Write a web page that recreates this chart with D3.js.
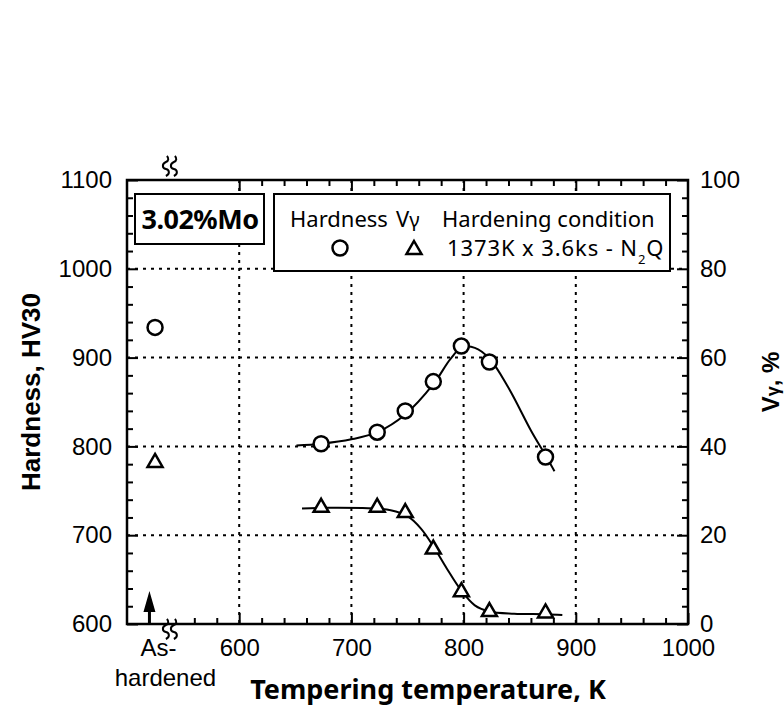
<!DOCTYPE html>
<html lang="en">
<head>
    <meta charset="UTF-8">
    <title>Hardness and retained austenite vs tempering temperature</title>
    <script src="https://d3js.org/d3.v7.min.js"></script>
</head>

<style>
    body { margin: 0; background: #fff; }

    .frame {
        fill: none;
        stroke: #000;
        stroke-width: 2.5px;
    }

    .grid line {
        stroke: #000;
        stroke-width: 2px;
        stroke-dasharray: 3,5;
    }

    .tick line {
        stroke: #000;
        stroke-width: 2px;
    }

    .tick text {
        font-family: "Liberation Sans", Arial, sans-serif;
        font-size: 24px;
        fill: #000;
    }

    .fit {
        fill: none;
        stroke: #000;
        stroke-width: 2px;
    }

    .marker {
        fill: #fff;
        stroke: #000;
        stroke-width: 2.5px;
    }

    .title {
        font-family: "Liberation Sans", Arial, sans-serif;
        font-weight: bold;
        font-size: 26px;
    }

    .legend text {
        font-family: "Noto Sans", sans-serif;
        font-size: 22px;
    }
</style>

<body>
<svg width="784" height="709"></svg>

<script>

    // tempering temperatures, K
    var temps = [673, 723, 748, 773, 798, 823, 873];
    // hardness, HV30
    var hardness = [803, 816, 840, 873, 913, 895, 788];
    // retained austenite V-gamma, %
    var gammaVol = [26.4, 26.4, 25.2, 17.0, 7.4, 2.9, 2.6];

    // as-hardened values (drawn at the left, before the axis break)
    var asHardenedPos = 525;
    var asHardenedHardness = 934;
    var asHardenedGamma = 36.5;

    // hand drawn fitting curves
    var hardFitT = [651, 673, 700, 723, 748, 773, 788, 798, 810, 823, 840, 860, 873, 881];
    var hardFitV = [801, 803, 808, 816, 836, 870, 898, 911, 911, 899, 866, 818, 790, 772];
    var gammaFitT = [656, 680, 710, 735, 750, 762, 773, 785, 798, 810, 823, 845, 873, 888];
    var gammaFitV = [26.0, 26.2, 26.1, 25.6, 24.3, 21.5, 17.5, 12.5, 7.5, 4.2, 2.8, 2.3, 2.2, 2.0];

    var xTicks = [600, 700, 800, 900, 1000];
    var yLeftTicks = [600, 700, 800, 900, 1000, 1100];
    var yRightTicks = [0, 20, 40, 60, 80, 100];

    var svg = d3.select("svg");

    var x = d3.scaleLinear().domain([500, 1000]).range([127, 688]);
    var yL = d3.scaleLinear().domain([600, 1100]).range([624, 180]);
    var yR = d3.scaleLinear().domain([0, 100]).range([624, 180]);

    var plotL = x(500), plotR = x(1000), plotT = yL(1100), plotB = yL(600);
    var fmt = d3.format("d");

    // dotted grid
    var grid = svg.append("g").attr("class", "grid");
    grid.selectAll("line.v")
        .data([600, 700, 800, 900])
        .enter().append("line")
        .attr("x1", function(d) { return x(d); })
        .attr("x2", function(d) { return x(d); })
        .attr("y1", plotT).attr("y2", plotB);
    grid.selectAll("line.h")
        .data([700, 800, 900, 1000])
        .enter().append("line")
        .attr("y1", function(d) { return yL(d); })
        .attr("y2", function(d) { return yL(d); })
        .attr("x1", plotL).attr("x2", plotR);

    function notMajor(step) {
        return function(d) { return d % step !== 0; };
    }

    // bottom axis
    svg.append("g")
        .attr("transform", "translate(0," + plotB + ")")
        .call(d3.axisBottom(x).tickValues(d3.range(560, 1000, 20).filter(notMajor(100))).tickSize(-6).tickFormat(""));
    svg.append("g")
        .attr("transform", "translate(0," + plotB + ")")
        .call(d3.axisBottom(x).tickValues(xTicks).tickSize(-11).tickPadding(15).tickFormat(fmt));

    // top axis
    svg.append("g")
        .attr("transform", "translate(0," + plotT + ")")
        .call(d3.axisTop(x).tickValues(d3.range(620, 1000, 20).filter(notMajor(100))).tickSize(-6).tickFormat(""));
    svg.append("g")
        .attr("transform", "translate(0," + plotT + ")")
        .call(d3.axisTop(x).tickValues([600, 700, 800, 900]).tickSize(-11).tickFormat(""));

    // left axis
    svg.append("g")
        .attr("transform", "translate(" + plotL + ",0)")
        .call(d3.axisLeft(yL).tickValues(d3.range(620, 1100, 20).filter(notMajor(100))).tickSize(-6).tickFormat(""));
    svg.append("g")
        .attr("transform", "translate(" + plotL + ",0)")
        .call(d3.axisLeft(yL).tickValues(yLeftTicks).tickSize(-11).tickPadding(15).tickFormat(fmt));

    // right axis
    svg.append("g")
        .attr("transform", "translate(" + plotR + ",0)")
        .call(d3.axisRight(yR).tickValues(d3.range(4, 100, 4).filter(notMajor(20))).tickSize(-6).tickFormat(""));
    svg.append("g")
        .attr("transform", "translate(" + plotR + ",0)")
        .call(d3.axisRight(yR).tickValues(yRightTicks).tickSize(-11).tickPadding(12).tickFormat(fmt));

    svg.selectAll(".domain").remove();
    svg.selectAll(".tick text").attr("fill", "#000");

    svg.append("rect")
        .attr("class", "frame")
        .attr("x", plotL).attr("y", plotT)
        .attr("width", plotR - plotL).attr("height", plotB - plotT);

    // axis break marks
    function breakMark(cx, cy) {
        var p = "";
        [-4, 4].forEach(function(dx) {
            var x0 = cx + dx;
            p += "M" + (x0 - 2) + "," + (cy + 10) +
                 "c4,-2 4,-6 0,-7" + "c-4,-1 -4,-5 0,-7" + "c3,-1 3,-4 1,-6";
        });
        svg.append("path").attr("d", p)
            .attr("fill", "none").attr("stroke", "#000").attr("stroke-width", 2);
    }
    breakMark(x(540), plotB + 5);
    breakMark(x(540), plotT - 14);

    // as-hardened arrow
    svg.append("path")
        .attr("d", "M" + x(520) + "," + (plotB - 33) +
                   "l6,21 h-4.5 v12 h-3 v-12 h-4.5 z")
        .attr("fill", "#000");

    var labels = svg.append("g").attr("class", "tick");
    labels.append("text").attr("x", x(520) + 9).attr("y", plotB + 32)
        .attr("text-anchor", "middle").text("As-");
    labels.append("text").attr("x", x(520) + 16).attr("y", plotB + 62)
        .attr("text-anchor", "middle").text("hardened");

    // fitted curves
    var lineL = d3.line()
        .x(function(d) { return x(d[0]); })
        .y(function(d) { return yL(d[1]); })
        .curve(d3.curveCatmullRom);
    var lineR = d3.line()
        .x(function(d) { return x(d[0]); })
        .y(function(d) { return yR(d[1]); })
        .curve(d3.curveCatmullRom);

    svg.append("path").attr("class", "fit")
        .attr("d", lineL(d3.zip(hardFitT, hardFitV)));
    svg.append("path").attr("class", "fit")
        .attr("d", lineR(d3.zip(gammaFitT, gammaFitV)));

    var triPath = "M0,-8L7.5,5L-7.5,5Z";

    // hardness circles
    svg.append("g").selectAll("circle")
        .data(d3.zip(temps.concat([asHardenedPos]), hardness.concat([asHardenedHardness])))
        .enter().append("circle")
        .attr("class", "marker")
        .attr("cx", function(d) { return x(d[0]); })
        .attr("cy", function(d) { return yL(d[1]); })
        .attr("r", 7.5);

    // V-gamma triangles
    svg.append("g").selectAll("path")
        .data(d3.zip(temps.concat([asHardenedPos]), gammaVol.concat([asHardenedGamma])))
        .enter().append("path")
        .attr("class", "marker")
        .attr("d", triPath)
        .attr("transform", function(d) {
            return "translate(" + x(d[0]) + "," + yR(d[1]) + ")";
        });

    // alloy box
    svg.append("rect")
        .attr("x", 135).attr("y", 194).attr("width", 129).attr("height", 50)
        .attr("fill", "#fff").attr("stroke", "#000").attr("stroke-width", 2);
    svg.append("text")
        .attr("x", 200).attr("y", 229)
        .attr("text-anchor", "middle")
        .style("font-family", "'Noto Sans', sans-serif")
        .style("font-weight", "bold")
        .style("font-size", "27px")
        .style("letter-spacing", "-0.5px")
        .text("3.02%Mo");

    // legend
    var legend = svg.append("g").attr("class", "legend");
    legend.append("rect")
        .attr("x", 274).attr("y", 194).attr("width", 396).attr("height", 77)
        .attr("fill", "#fff").attr("stroke", "#000").attr("stroke-width", 2);
    legend.append("text").attr("x", 290).attr("y", 227).text("Hardness");
    var vg = legend.append("text").attr("x", 396).attr("y", 227);
    vg.append("tspan").text("V");
    vg.append("tspan").style("font-size", "20px").text("\u03B3");
    legend.append("text").attr("x", 442).attr("y", 227).text("Hardening condition");
    legend.append("circle").attr("class", "marker")
        .attr("cx", 340).attr("cy", 248).attr("r", 7.5);
    legend.append("path").attr("class", "marker")
        .attr("d", triPath)
        .attr("transform", "translate(414,249)");
    var cond = legend.append("text").attr("x", 447).attr("y", 256)
        .style("letter-spacing", "0.9px");
    cond.append("tspan").text("1373K x 3.6ks - N");
    cond.append("tspan").attr("dy", 8).style("font-size", "13px").text("2");
    cond.append("tspan").attr("dy", -8).text("Q");

    // axis titles
    svg.append("text").attr("class", "title")
        .attr("transform", "translate(40," + ((plotT + plotB) / 2 - 10) + ") rotate(-90)")
        .attr("text-anchor", "middle")
        .text("Hardness,  HV30");

    var rt = svg.append("text").attr("class", "title")
        .attr("transform", "translate(779," + ((plotT + plotB) / 2 - 20) + ") rotate(-90)")
        .attr("text-anchor", "middle")
        .style("font-size", "24px");
    rt.append("tspan").text("V");
    rt.append("tspan").style("font-size", "18px").text("\u03B3");
    rt.append("tspan").text(", %");

    svg.append("text")
        .attr("x", 428).attr("y", 699)
        .attr("text-anchor", "middle")
        .style("font-family", "'Noto Sans', sans-serif")
        .style("font-weight", "bold")
        .style("font-size", "27px")
        .text("Tempering temperature, K");

</script>

</body>
</html>
